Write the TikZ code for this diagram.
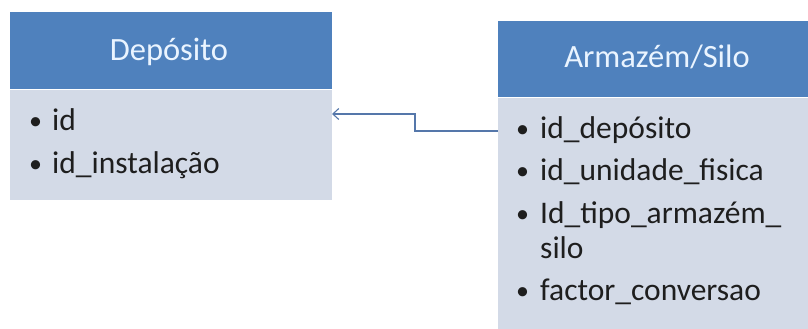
\documentclass[tikz,border=0pt]{standalone}
\usepackage{fontspec}
\setmainfont{Carlito}
\usetikzlibrary{arrows.meta,calc}
\definecolor{hdr}{HTML}{4F81BD}
\definecolor{bdy}{HTML}{D3DAE7}
\definecolor{hdrtxt}{HTML}{EAF4FF}
\definecolor{txt}{HTML}{1E1E1E}
\definecolor{lnk}{HTML}{5577AA}
\tikzset{
  hbox/.style={fill=hdr,draw=none},
  bbox/.style={fill=bdy,draw=none},
  htext/.style={anchor=base,inner sep=0pt,text=hdrtxt,font=\fontsize{32.5}{38}\selectfont},
  itext/.style={anchor=base west,inner sep=0pt,text=txt,font=\fontsize{31.5}{38}\selectfont},
  bul/.style={anchor=base west,inner sep=0pt,text=txt,font=\fontsize{26}{38}\selectfont},
  link/.style={draw=lnk,line width=1.1pt,-{Straight Barb[length=6pt,width=11pt]}}
}
\begin{document}
\begin{tikzpicture}[x=1pt,y=-1pt]
\useasboundingbox (0,0) rectangle (808,329);
% left entity
\path[bbox] (10,90) rectangle (332,200);
\path[hbox] (10,12) rectangle (332,88.5);
\node[htext] (ltitle) at (169,60) {Depósito};
\node[bul] (lb1) at (29,129) {•};
\node[itext] (li1) at (52,130) {id};
\node[bul] (lb2) at (29,172) {•};
\node[itext] (li2) at (52,173) {id\_instalação};
\coordinate (lbody) at (332,114);
% right entity
\path[bbox] (498,98) rectangle (808,329);
\path[hbox] (498,21) rectangle (808,96.5);
\node[htext] (rtitle) at (657,67) {Armazém/Silo};
\node[bul] (rb1) at (516,137) {•};
\node[itext] (ri1) at (540,138) {id\_depósito};
\node[bul] (rb2) at (516,179) {•};
\node[itext] (ri2) at (540,180) {id\_unidade\_fisica};
\node[bul] (rb3) at (516,222) {•};
\node[itext] (ri3) at (540,223) {Id\_tipo\_armazém\_};
\node[itext] (ri3b) at (540,258) {silo};
\node[bul] (rb4) at (516,299) {•};
\node[itext] (ri4) at (540,300) {factor\_conversao};
\coordinate (rbody) at (498,131);
% connector
\draw[link] (rbody) -| ($(rbody)!0.5!(lbody)$) |- (lbody);
\end{tikzpicture}
\end{document}
